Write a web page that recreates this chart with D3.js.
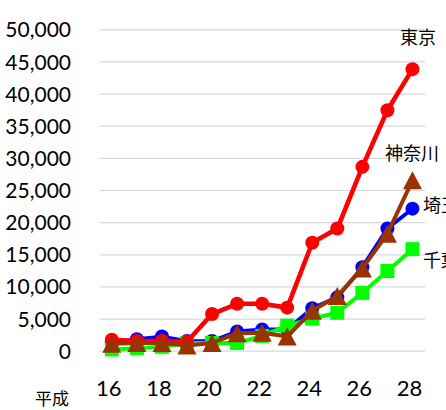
<!DOCTYPE html>
<html>
<head>
<meta charset="utf-8">
<script src="https://cdn.jsdelivr.net/npm/d3@7/dist/d3.min.js"></script>
<style>
  html, body { margin: 0; padding: 0; background: #ffffff; }
  svg { display: block; }
</style>
</head>
<body>
<svg id="chart" width="446" height="410"></svg>
<script>
// Years (平成) on the category axis
const years = [16, 17, 18, 19, 20, 21, 22, 23, 24, 25, 26, 27, 28];
const yearTicks = [16, 18, 20, 22, 24, 26, 28];
const valueTicks = [0, 5000, 10000, 15000, 20000, 25000, 30000, 35000, 40000, 45000, 50000];

// Counts per prefecture (件)
const tokyo    = [1700, 1500, 1500, 1400, 5700, 7300, 7300, 6700, 16800, 19000, 28600, 37400, 43800];
const kanagawa = [1100, 1200, 1200, 800, 1200, 2700, 2800, 2200, 6200, 8500, 12800, 18200, 26500];
const saitama  = [1300, 1800, 2200, 1500, 1500, 3000, 3300, 3300, 6600, 8300, 13000, 19000, 22100];
const chiba    = [200, 400, 600, 1200, 1200, 1200, 2300, 3900, 5000, 5900, 9000, 12400, 15800];

const seriesNames = ["東京", "神奈川", "埼玉", "千葉"];

const svg = d3.select("#chart");
const plot = { left: 99.3, right: 425, top: 29.3, bottom: 350.7 };

const x = d3.scaleBand().domain(years).range([plot.left, plot.right]);
const cx = d => x(d) + x.bandwidth() / 2;
const y = d3.scaleLinear().domain([0, 50000]).range([plot.bottom, plot.top]);

const numFont = "Lato, 'Open Sans', sans-serif";
const cjkFont = "'Noto Sans CJK JP', 'Noto Sans CJK SC', sans-serif";

// Horizontal gridlines
const grid = svg.append("g")
  .attr("transform", `translate(${plot.left},0)`)
  .call(d3.axisLeft(y).tickValues(valueTicks).tickSize(-(plot.right - plot.left)).tickFormat(""));
grid.select(".domain").remove();
grid.selectAll("line").attr("stroke", "#d9d9d9").attr("stroke-width", 1.2);

// Value labels
const yAxis = svg.append("g")
  .attr("transform", `translate(71,0)`)
  .call(d3.axisLeft(y).tickValues(valueTicks).tickSize(0).tickPadding(0).tickFormat(d3.format(",")));
yAxis.select(".domain").remove();
yAxis.selectAll("text")
  .attr("font-family", numFont).attr("font-size", 21).attr("fill", "#000")
  .attr("dy", "0.36em");

// Year labels
const xAxis = svg.append("g")
  .attr("transform", `translate(0,${plot.bottom})`)
  .call(d3.axisBottom(x).tickValues(yearTicks).tickSize(0).tickPadding(0));
xAxis.select(".domain").remove();
xAxis.selectAll("text")
  .attr("font-family", numFont).attr("font-size", 22).attr("fill", "#000")
  .attr("dx", -3).attr("y", 45).attr("dy", 0);

// Axis captions
svg.append("text").attr("x", 6).attr("y", -2)
  .attr("font-family", cjkFont).attr("font-size", 16).attr("fill", "#000")
  .text("（件）");
svg.append("text").attr("x", 35).attr("y", 405)
  .attr("font-family", cjkFont).attr("font-size", 17).attr("fill", "#000")
  .text("平成");

const line = d3.line().x((d, i) => cx(years[i])).y(d => y(d));

function drawSeries(values, color, width, marker) {
  const g = svg.append("g");
  g.append("path").datum(values)
    .attr("d", line).attr("fill", "none")
    .attr("stroke", color).attr("stroke-width", width)
    .attr("stroke-linejoin", "round");
  const pts = g.selectAll(".m").data(values).enter();
  if (marker === "circle") {
    pts.append("circle")
      .attr("cx", (d, i) => cx(years[i])).attr("cy", d => y(d))
      .attr("r", 7).attr("fill", color);
  } else if (marker === "square") {
    pts.append("rect")
      .attr("x", (d, i) => cx(years[i]) - 7).attr("y", d => y(d) - 7)
      .attr("width", 14).attr("height", 14).attr("fill", color);
  } else {
    pts.append("path")
      .attr("transform", (d, i) => `translate(${cx(years[i])},${y(d)})`)
      .attr("d", "M0,-9L9.5,9L-9.5,9Z").attr("fill", color);
  }
}

drawSeries(saitama, "#0000ff", 3.8, "circle");
drawSeries(chiba, "#00ff00", 4, "square");
drawSeries(tokyo, "#ff0000", 4.6, "circle");
drawSeries(kanagawa, "#993300", 4, "triangle");

// Series labels beside the last points
const labelPos = [
  { name: seriesNames[0], x: 400, y: 44 },
  { name: seriesNames[1], x: 385, y: 160 },
  { name: seriesNames[2], x: 423, y: 212 },
  { name: seriesNames[3], x: 423, y: 267 }
];
svg.selectAll(".slabel").data(labelPos).enter().append("text")
  .attr("x", d => d.x).attr("y", d => d.y)
  .attr("font-family", cjkFont).attr("font-size", 18).attr("fill", "#000")
  .text(d => d.name);
</script>
</body>
</html>
